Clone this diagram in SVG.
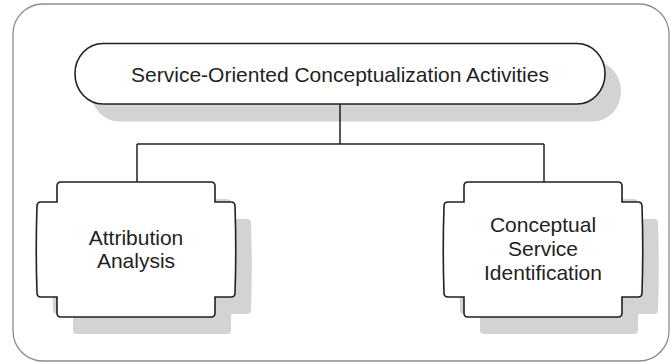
<svg xmlns="http://www.w3.org/2000/svg" xmlns:xlink="http://www.w3.org/1999/xlink" width="672" height="362" viewBox="0 0 672 362">
<style>
.frame{fill:#ffffff;stroke:#8c8c8c;stroke-width:1.3}
.shadow{fill:#d1d3d4;stroke:none}
.shape{fill:#ffffff;stroke:#231f20;stroke-width:1.6}
.conn{fill:none;stroke:#231f20;stroke-width:1.5}
.lbl{font-family:"Liberation Sans",Arial,sans-serif;font-size:21px;fill:#231f20;text-anchor:middle}
</style>
<defs>
<path id="box" d="M 61 182 L 211 182 Q 215 182 215 186 L 215 202 L 231 202 Q 235 202 235 206 Q 236.5 249.5 235 293 Q 235 297 231 297 L 215 297 L 215 313 Q 215 317 211 317 L 61 317 Q 57 317 57 313 L 57 297 L 41 297 Q 37 297 37 293 Q 35.5 249.5 37 206 Q 37 202 41 202 L 57 202 L 57 186 Q 57 182 61 182 Z"/>
</defs>
<rect class="frame" x="13" y="4" width="656" height="357" rx="30" ry="30"/>
<g id="top">
<rect class="shadow" x="91" y="61" width="530" height="60.5" rx="28" ry="30"/>
<rect class="shape" x="75" y="43.5" width="530" height="60.5" rx="28" ry="30"/>
<text class="lbl" x="340" y="82">Service-Oriented Conceptualization Activities</text>
</g>
<g id="left">
<use xlink:href="#box" class="shadow" transform="translate(16,17)"/>
<use xlink:href="#box" class="shape"/>
<text class="lbl" x="136" y="245">Attribution</text>
<text class="lbl" x="136" y="268">Analysis</text>
</g>
<g id="right">
<use xlink:href="#box" class="shadow" transform="translate(423,17)"/>
<use xlink:href="#box" class="shape" transform="translate(407,0)"/>
<text class="lbl" x="543" y="232">Conceptual</text>
<text class="lbl" x="543" y="256">Service</text>
<text class="lbl" x="543" y="280">Identification</text>
</g>
<g id="connectors">
<path class="conn" d="M 340 104 L 340 144 M 137 144 L 544 144 M 137 144 L 137 182 M 544 144 L 544 182"/>
</g>
</svg>
